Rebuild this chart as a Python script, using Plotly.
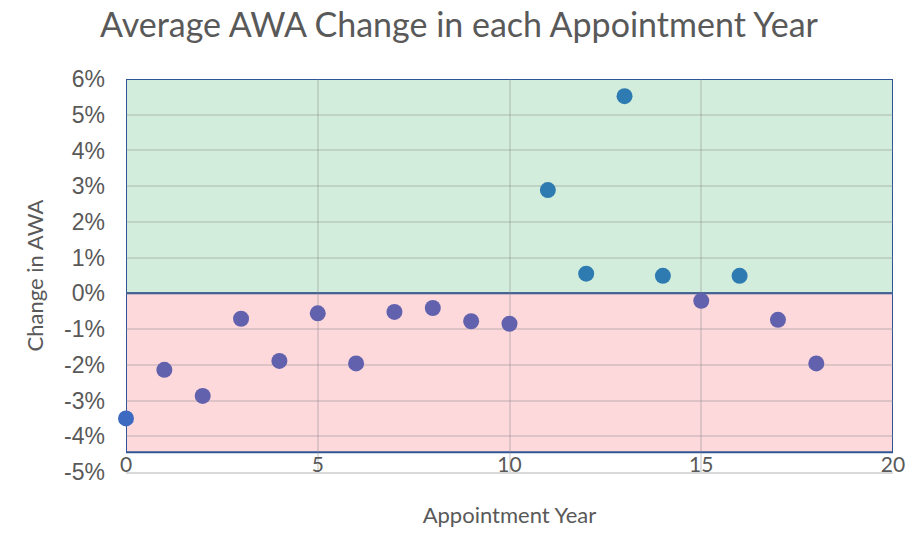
import plotly.graph_objects as go

years = list(range(19))
awa_change = [-0.035, -0.0214, -0.0287, -0.0071, -0.0189, -0.0056, -0.0196, -0.0052,
              -0.0041, -0.0078, -0.0085, 0.0289, 0.0055, 0.0552, 0.0049, -0.0021,
              0.0049, -0.0074, -0.0196]
x_ticks = [0, 5, 10, 15, 20]
y_ticks = [-0.05, -0.04, -0.03, -0.02, -0.01, 0, 0.01, 0.02, 0.03, 0.04, 0.05, 0.06]
y_tick_labels = ["-5%", "-4%", "-3%", "-2%", "-1%", "0%", "1%", "2%", "3%", "4%", "5%", "6%"]

colors = []
for i, v in enumerate(awa_change):
    if v > 0:
        colors.append("#2E7BB1")
    elif i == 0:
        colors.append("#3C6AC0")
    else:
        colors.append("#6161AE")

fig = go.Figure()
fig.add_trace(go.Scatter(
    x=years, y=awa_change, mode="markers",
    marker=dict(size=16, color=colors, line=dict(width=0)),
    cliponaxis=False, showlegend=False,
))

fig.add_shape(type="rect", xref="x", yref="y", x0=0, x1=20, y0=0, y1=0.06,
              fillcolor="#D3EDDC", line=dict(color="#2F5597", width=2), layer="below")
fig.add_shape(type="rect", xref="x", yref="y", x0=0, x1=20, y0=-0.0445, y1=0,
              fillcolor="#FDD9DC", line=dict(color="#2F5597", width=2), layer="below")

gray = "#595959"
grid = "rgba(130,130,130,0.25)"
fig.update_layout(
    width=918, height=539,
    margin=dict(l=126, r=25, t=79, b=67, autoexpand=False),
    paper_bgcolor="white", plot_bgcolor="white",
    title=dict(text="Average AWA Change in each Appointment Year", x=0.5, xanchor="center",
               y=0.976, yanchor="top",
               font=dict(family="Lato", size=34, color=gray)),
    xaxis=dict(range=[0, 20], tickvals=x_ticks, showgrid=True,
               gridcolor=grid, gridwidth=2,
               showline=True, linecolor="#D9D9D9", linewidth=2,
               ticks="", ticklabelposition="outside", ticklabelstandoff=-27,
               tickfont=dict(family="Lato", size=21, color=gray),
               zeroline=False, automargin=False,
               title=dict(text="Appointment Year", font=dict(family="Lato", size=22, color=gray),
                          standoff=32)),
    yaxis=dict(range=[-0.05, 0.06], tickvals=y_ticks, ticktext=y_tick_labels,
               showgrid=True, gridcolor=grid, gridwidth=2,
               zeroline=False, showline=False, ticks="",
               ticklabelstandoff=20, automargin=False,
               tickfont=dict(family="Liberation Sans", size=23, color=gray),
               title=dict(text="Change in AWA", font=dict(family="Lato", size=22, color=gray),
                          standoff=14)),
)

fig.write_html("out.html", config={"displayModeBar": False},
               post_script="document.body.style.margin='0';")
